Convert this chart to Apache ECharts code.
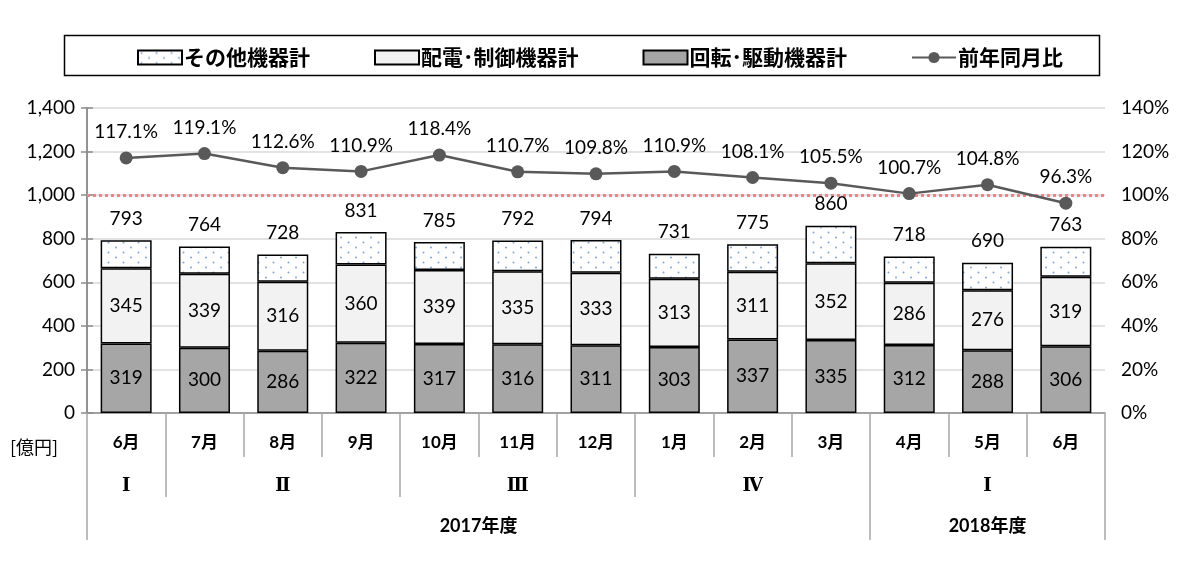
<!DOCTYPE html>
<html>
<head>
<meta charset="utf-8">
<script src="https://cdn.jsdelivr.net/npm/echarts@6/dist/echarts.min.js"></script>
<style>
html,body{margin:0;padding:0;background:#fff;}
#chart{width:1200px;height:574px;}
</style>
</head>
<body>
<div id="chart"></div>
<script>
// ---- data ----
const months = ['6月','7月','8月','9月','10月','11月','12月','1月','2月','3月','4月','5月','6月'];
const rotating = [319,300,286,322,317,316,311,303,337,335,312,288,306];   // 回転･駆動機器計
const distrib  = [345,339,316,360,339,335,333,313,311,352,286,276,319];   // 配電･制御機器計
const others   = [129,125,126,149,129,141,150,115,127,173,120,126,138];   // その他機器計
const totals   = [793,764,728,831,785,792,794,731,775,860,718,690,763];
const yoy      = [117.1,119.1,112.6,110.9,118.4,110.7,109.8,110.9,108.1,105.5,100.7,104.8,96.3]; // 前年同月比
const leftTicks = [0,200,400,600,800,1000,1200,1400];
const rightTicks = [0,20,40,60,80,100,120,140];
const quarterLabels = ['Ⅰ','Ⅱ','Ⅲ','Ⅳ','Ⅰ'];
const quarterBounds = [0,1,4,7,10,13];      // boundaries in month-slot units
const yearLabels = ['2017年度','2018年度'];
const yearBounds = [0,10,13];

const quarterCenters = quarterLabels.map((_, i) => (quarterBounds[i] + quarterBounds[i+1]) / 2);
const yearCenters = yearLabels.map((_, i) => (yearBounds[i] + yearBounds[i+1]) / 2);

function makePattern() {
  const c = document.createElement('canvas');
  c.width = 15; c.height = 10;
  const g = c.getContext('2d');
  g.fillStyle = '#ffffff';
  g.fillRect(0, 0, 15, 10);
  g.fillStyle = '#7ea6d8';
  g.beginPath(); g.arc(3.5, 2.5, 1, 0, Math.PI * 2); g.fill();
  g.beginPath(); g.arc(11, 7.5, 1, 0, Math.PI * 2); g.fill();
  return c;
}
const pattern = { image: makePattern(), repeat: 'repeat' };

const NUM_FONT = "Lato, 'Noto Sans CJK JP', sans-serif";
const CJK_FONT = "'Noto Sans CJK JP', sans-serif";

const chart = echarts.init(document.getElementById('chart'), null, { renderer: 'canvas' });

const barBorder = { borderColor: '#000', borderWidth: 1.5 };

const option = {
  animation: false,
  backgroundColor: '#fff',
  textStyle: { fontFamily: NUM_FONT },
  grid: { left: 87, right: 95, top: 108, bottom: 161, containLabel: false },
  legend: {
    top: 42,
    left: 'center',
    itemGap: 64,
    itemWidth: 44,
    itemHeight: 14,
    data: [
      { name: 'その他機器計', icon: 'rect' },
      { name: '配電･制御機器計', icon: 'rect' },
      { name: '回転･駆動機器計', icon: 'rect' },
      { name: '前年同月比' }
    ],
    textStyle: { fontFamily: CJK_FONT, fontSize: 21, fontWeight: 'bold', color: '#000', padding: [0, 0, 0, -3] }
  },
  graphic: [
    { type: 'rect', left: 62, top: 33, shape: { width: 1035, height: 40 }, style: { fill: 'none', stroke: '#000', lineWidth: 1.5 }, silent: true },
    { type: 'text', left: 10, top: 438, style: { text: '[億円]', fontFamily: CJK_FONT, fontSize: 18, fill: '#000' } }
  ],
  xAxis: [
    {
      type: 'category',
      data: months,
      position: 'bottom',
      axisLine: { lineStyle: { color: '#8c8c8c', width: 1.5 } },
      axisTick: { show: true, length: 44, lineStyle: { color: '#a6a6a6', width: 1.5 } },
      axisLabel: { margin: 21, fontSize: 17, fontWeight: 'bold', fontFamily: NUM_FONT, color: '#000' },
      splitLine: { show: false }
    },
    {
      type: 'value', min: 0, max: 13, position: 'bottom', offset: 0,
      axisLine: { show: false },
      splitLine: { show: false },
      axisTick: { show: true, customValues: quarterBounds, length: 84, lineStyle: { color: '#a6a6a6', width: 1.5 } },
      axisLabel: {
        customValues: quarterCenters, margin: 64, fontSize: 18, fontWeight: 'bold',
        fontFamily: "'DejaVu Serif', 'Liberation Serif', serif", color: '#000',
        formatter: v => { const i = quarterCenters.indexOf(v); return i >= 0 ? quarterLabels[i] : ''; }
      }
    },
    {
      type: 'value', min: 0, max: 13, position: 'bottom', offset: 0,
      axisLine: { show: false },
      splitLine: { show: false },
      axisTick: { show: true, customValues: yearBounds, length: 127, lineStyle: { color: '#a6a6a6', width: 1.5 } },
      axisLabel: {
        customValues: yearCenters, margin: 104, fontSize: 18, fontWeight: 'bold', fontFamily: NUM_FONT, color: '#000',
        formatter: v => { const i = yearCenters.indexOf(v); return i >= 0 ? yearLabels[i] : ''; }
      }
    }
  ],
  yAxis: [
    {
      type: 'value', min: leftTicks[0], max: leftTicks[leftTicks.length - 1], interval: leftTicks[1] - leftTicks[0],
      axisLine: { show: true, lineStyle: { color: '#8c8c8c', width: 1.5 } },
      axisTick: { show: true, length: 6, lineStyle: { color: '#8c8c8c', width: 1.5 } },
      axisLabel: { fontSize: 19, color: '#000', margin: 12, formatter: v => v.toLocaleString('en-US') },
      splitLine: { show: true, lineStyle: { color: '#d9d9d9', width: 1.5 } }
    },
    {
      type: 'value', min: rightTicks[0], max: rightTicks[rightTicks.length - 1], interval: rightTicks[1] - rightTicks[0],
      position: 'right',
      axisLine: { show: true, lineStyle: { color: '#8c8c8c', width: 1.5 } },
      axisTick: { show: true, length: 6, lineStyle: { color: '#8c8c8c', width: 1.5 } },
      axisLabel: { fontSize: 19, color: '#000', margin: 16, formatter: v => v + '%' },
      splitLine: { show: false }
    }
  ],
  series: [
    {
      name: '回転･駆動機器計', type: 'bar', stack: 'total', barWidth: 51,
      xAxisIndex: 0, yAxisIndex: 0,
      data: rotating,
      itemStyle: Object.assign({ color: '#a6a6a6' }, barBorder),
      label: { show: true, position: 'inside', fontSize: 19, color: '#000', fontFamily: NUM_FONT }
    },
    {
      name: '配電･制御機器計', type: 'bar', stack: 'total', barWidth: 51,
      xAxisIndex: 0, yAxisIndex: 0,
      data: distrib,
      itemStyle: Object.assign({ color: '#f2f2f2' }, barBorder),
      label: { show: true, position: 'inside', fontSize: 19, color: '#000', fontFamily: NUM_FONT }
    },
    {
      name: 'その他機器計', type: 'bar', stack: 'total', barWidth: 51,
      xAxisIndex: 0, yAxisIndex: 0,
      data: others,
      itemStyle: Object.assign({ color: pattern }, barBorder),
      label: { show: true, position: 'top', distance: 12, fontSize: 19, color: '#000', fontFamily: NUM_FONT,
               formatter: p => String(totals[p.dataIndex]) }
    },
    {
      name: '前年同月比', type: 'line', xAxisIndex: 0, yAxisIndex: 1,
      data: yoy,
      z: 5,
      color: '#595959',
      lineStyle: { color: '#595959', width: 2.5 },
      symbol: 'circle', symbolSize: 13,
      itemStyle: { color: '#595959' },
      label: { show: true, position: 'top', distance: 10, fontSize: 19, color: '#000', fontFamily: NUM_FONT,
               formatter: p => p.value.toFixed(1) + '%' },
      markLine: {
        silent: true, symbol: 'none', z: 1,
        label: { show: false },
        lineStyle: { color: '#ff7c80', width: 3, type: [3, 3] },
        data: [{ yAxis: 100 }]
      }
    }
  ]
};
chart.setOption(option);
</script>
</body>
</html>
